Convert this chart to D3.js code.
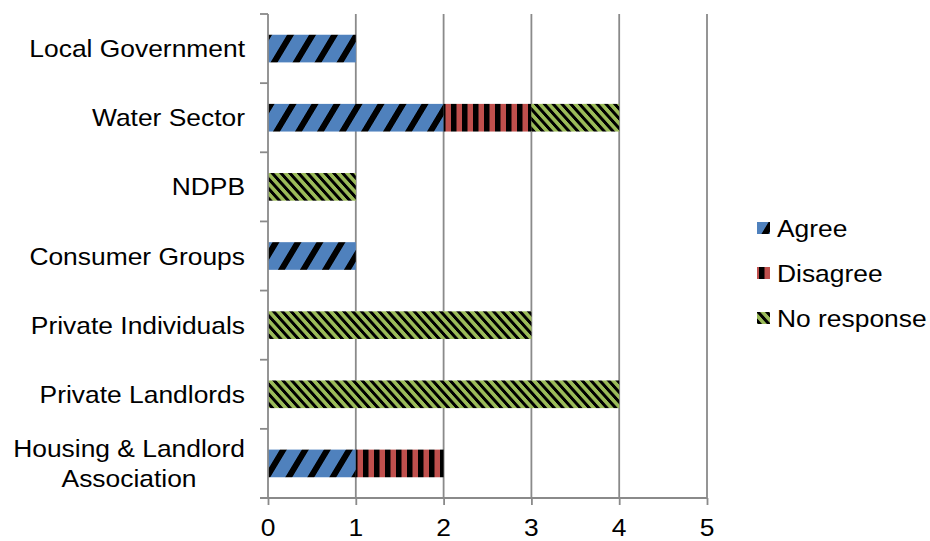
<!DOCTYPE html>
<html>
<head>
<meta charset="utf-8">
<script src="https://cdn.jsdelivr.net/npm/d3@7"></script>
<style>
  html, body { margin: 0; padding: 0; background: #fff; }
  svg { display: block; }
  text { font-family: Arial, "Liberation Sans", sans-serif; fill: #000; }
</style>
</head>
<body>
<svg id="chart" width="930" height="541"></svg>
<script>
// Responses by stakeholder group
const categories = [
  "Local Government",
  "Water Sector",
  "NDPB",
  "Consumer Groups",
  "Private Individuals",
  "Private Landlords",
  "Housing & Landlord Association"
];
const seriesNames = ["Agree", "Disagree", "No response"];
const agree      = [1, 2, 0, 1, 0, 0, 1];
const disagree   = [0, 1, 0, 0, 0, 0, 1];
const noResponse = [0, 1, 1, 0, 3, 4, 0];
const xTicks = [0, 1, 2, 3, 4, 5];

const svg = d3.select("#chart");
const margin = { left: 268, right: 223, top: 14, bottom: 43 };
const W = 930, H = 541;
const fontSize = 24, stretch = 1.1;
const gridColor = "#8a8a8a";

const x = d3.scaleLinear().domain([0, 5]).range([margin.left, W - margin.right]);
const y = d3.scaleBand().domain(categories)
  .range([margin.top, H - margin.bottom])
  .paddingInner(0.6).paddingOuter(0.3);

// Fill patterns for each series
const defs = svg.append("defs");
function stripes(id, color, period, dark, skew) {
  const p = defs.append("pattern")
    .attr("id", id)
    .attr("patternUnits", "userSpaceOnUse")
    .attr("width", period).attr("height", 40)
    .attr("patternTransform", `skewX(${skew})`);
  p.append("rect").attr("width", period).attr("height", 40).attr("fill", color);
  p.append("rect").attr("width", dark).attr("height", 40).attr("fill", "#000");
}
stripes("pat-agree", "#4f81bd", 22, 7, -31);
stripes("pat-disagree", "#c0504d", 11, 5.5, 0);
stripes("pat-none", "#9bbb59", 8.8, 4, 42);
const fills = ["url(#pat-agree)", "url(#pat-disagree)", "url(#pat-none)"];

// Vertical gridlines
svg.append("g").selectAll("line").data(xTicks.filter(d => d > 0)).join("line")
  .attr("x1", d => x(d)).attr("x2", d => x(d))
  .attr("y1", margin.top).attr("y2", H - margin.bottom)
  .attr("stroke", gridColor).attr("stroke-width", 1.8);

// Stacked bars
const rows = categories.map((c, i) => ({ c, v: [agree[i], disagree[i], noResponse[i]] }));
const stack = d3.stack().keys([0, 1, 2]).value((d, k) => d.v[k]);
const layers = stack(rows);
svg.append("g").selectAll("g").data(layers).join("g")
  .attr("fill", (d, i) => fills[i])
  .selectAll("rect").data(d => d.filter(s => s[1] > s[0])).join("rect")
  .attr("x", d => x(d[0]))
  .attr("width", d => x(d[1]) - x(d[0]))
  .attr("y", d => y(d.data.c))
  .attr("height", y.bandwidth());

// Axes
const xAxis = d3.axisBottom(x).tickValues(xTicks).tickSize(7).tickFormat(d3.format("d"));
const gx = svg.append("g").attr("transform", `translate(0,${H - margin.bottom})`).call(xAxis);
gx.select(".domain").remove();
gx.selectAll(".tick line").attr("stroke", gridColor).attr("stroke-width", 1.8);
gx.selectAll(".tick text").remove();
gx.append("line").attr("x1", margin.left - 8).attr("x2", x(5))
  .attr("stroke", gridColor).attr("stroke-width", 1.8);

const gy = svg.append("g");
gy.append("line").attr("x1", margin.left).attr("x2", margin.left)
  .attr("y1", margin.top).attr("y2", H - margin.bottom)
  .attr("stroke", gridColor).attr("stroke-width", 1.8);
const bounds = categories.map(c => y(c) - y.step() * y.paddingInner() / 2);
gy.selectAll("line.tk").data(bounds).join("line").attr("class", "tk")
  .attr("x1", margin.left - 8).attr("x2", margin.left)
  .attr("y1", d => d).attr("y2", d => d)
  .attr("stroke", gridColor).attr("stroke-width", 1.8);

// Text helper: text horizontally widened around its anchor point
function label(parent, str, px, py, anchor) {
  const g = parent.append("g").attr("transform", `translate(${px},${py}) scale(${stretch},1)`);
  const t = g.append("text").attr("text-anchor", anchor).attr("font-size", fontSize).text(str);
  return t;
}

// X tick labels
xTicks.forEach(d => label(svg, String(d), x(d), 536, "middle"));

// Category labels (wrapped when too wide)
const labelRight = 245, maxW = 240, capH = 8.6, lineH = 29.5;
const meas = svg.append("text").attr("font-size", fontSize).attr("visibility", "hidden");
const widthOf = s => meas.text(s).node().getComputedTextLength() * stretch;
categories.forEach(c => {
  const words = c.split(" ");
  const lines = [];
  let cur = "";
  words.forEach(w => {
    const test = cur ? cur + " " + w : w;
    if (cur && widthOf(test) > maxW) { lines.push(cur); cur = w; } else cur = test;
  });
  lines.push(cur);
  const cy = y(c) + y.bandwidth() / 2;
  const first = cy - (lines.length - 1) * lineH / 2 + capH;
  if (lines.length === 1) {
    label(svg, lines[0], labelRight, first, "end");
  } else {
    const bw = d3.max(lines, widthOf);
    lines.forEach((l, i) => label(svg, l, labelRight - bw / 2, first + i * lineH, "middle"));
  }
});
meas.remove();

// Legend
const lg = svg.append("g");
seriesNames.forEach((n, i) => {
  const cy = 228 + i * 45;
  lg.append("rect").attr("x", 757).attr("y", cy - 6).attr("width", 13).attr("height", 12)
    .attr("fill", fills[i]);
  label(lg, n, 777, cy + capH, "start");
});
</script>
</body>
</html>
